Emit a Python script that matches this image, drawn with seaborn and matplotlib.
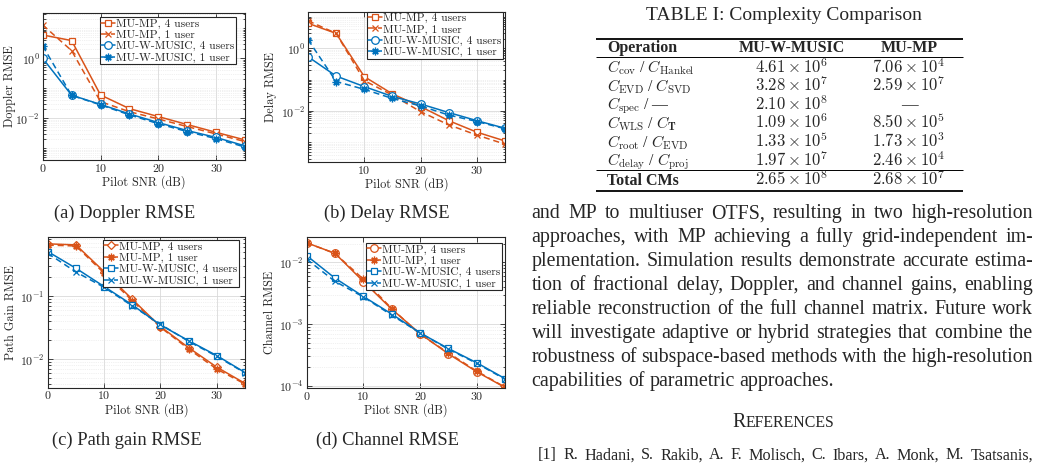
import numpy as np
import pandas as pd
import matplotlib
matplotlib.use("Agg")
import matplotlib.pyplot as plt
import seaborn as sns
from matplotlib.ticker import LogLocator, NullFormatter

sns.set_theme(style="ticks")
plt.rcParams["font.family"] = ["cmr10", "DejaVu Serif"]
plt.rcParams["mathtext.fontset"] = "cm"
plt.rcParams["axes.formatter.use_mathtext"] = True
plt.rcParams["axes.unicode_minus"] = False

# ---- data ----
snr = [0, 5, 10, 15, 20, 25, 30, 35]

doppler_mp4 = [6.0, 3.9, 0.060, 0.021, 0.0114, 0.0062, 0.0034, 0.0019]
doppler_mp1 = [12.9, 1.8, 0.036, 0.0166, 0.0095, 0.0053, 0.0030, 0.00167]
doppler_mu4 = [1.0, 0.059, 0.029, 0.014, 0.0072, 0.0039, 0.0023, 0.0012]
doppler_mu1 = [2.6, 0.058, 0.028, 0.013, 0.0066, 0.0036, 0.0021, 0.0011]

delay_mp4 = [6.3, 3.0, 0.125, 0.035, 0.0138, 0.0049, 0.0021, 0.0011]
delay_mp1 = [7.6, 3.0, 0.093, 0.032, 0.0095, 0.0036, 0.0017, 0.00087]
delay_mu4 = [0.54, 0.13, 0.060, 0.029, 0.0167, 0.0089, 0.0049, 0.0028]
delay_mu1 = [1.9, 0.087, 0.049, 0.025, 0.0144, 0.0074, 0.0046, 0.0027]

gain_mp4 = [0.67, 0.645, 0.243, 0.0885, 0.0326, 0.0151, 0.0074, 0.0041]
gain_mp1 = [0.64, 0.62, 0.23, 0.084, 0.0318, 0.0144, 0.0069, 0.0040]
gain_mu4 = [0.506, 0.275, 0.141, 0.072, 0.0346, 0.0195, 0.0113, 0.0061]
gain_mu1 = [0.475, 0.24, 0.137, 0.0694, 0.0355, 0.019, 0.011, 0.006]

chan_mp4 = [0.0207, 0.01396, 0.00488, 0.00174, 0.000698, 0.000328, 0.000168, 0.0000933]
chan_mp1 = [0.0207, 0.0139, 0.00532, 0.00178, 0.00068, 0.00034, 0.000172, 0.0000945]
chan_mu4 = [0.0128, 0.00552, 0.00279, 0.00145, 0.000716, 0.0004, 0.000235, 0.00013]
chan_mu1 = [0.0112, 0.0049, 0.00274, 0.00139, 0.000716, 0.00039, 0.00023, 0.000127]

labels = ["MU-MP, 4 users", "MU-MP, 1 user", "MU-W-MUSIC, 4 users", "MU-W-MUSIC, 1 user"]

table_ops = [r"$C_{\rm cov}$ / $C_{\rm Hankel}$", r"$C_{\rm EVD}$ / $C_{\rm SVD}$",
             r"$C_{\rm spec}$ / —", r"$C_{\rm WLS}$ / $C_{\mathbf{T}}$",
             r"$C_{\rm root}$ / $C_{\rm EVD}$", r"$C_{\rm delay}$ / $C_{\rm proj}$"]
table_music = [r"$4.61\times10^{6}$", r"$3.28\times10^{7}$", r"$2.10\times10^{8}$",
               r"$1.09\times10^{6}$", r"$1.33\times10^{5}$", r"$1.97\times10^{7}$"]
table_mp = [r"$7.06\times10^{4}$", r"$2.59\times10^{7}$", "—",
            r"$8.50\times10^{5}$", r"$1.73\times10^{3}$", r"$2.46\times10^{4}$"]
total_music = r"$\mathbf{2.65}\times\mathbf{10}^{\mathbf{8}}$"
total_mp = r"$\mathbf{2.68}\times\mathbf{10}^{\mathbf{7}}$"

paragraph = [
    "and MP to multiuser OTFS, resulting in two high-resolution",
    "approaches, with MP achieving a fully grid-independent im-",
    "plementation. Simulation results demonstrate accurate estima-",
    "tion of fractional delay, Doppler, and channel gains, enabling",
    "reliable reconstruction of the full channel matrix. Future work",
    "will investigate adaptive or hybrid strategies that combine the",
    "robustness of subspace-based methods with the high-resolution",
    "capabilities of parametric approaches.",
]
ref1 = "[1] R. Hadani, S. Rakib, A. F. Molisch, C. Ibars, A. Monk, M. Tsatsanis,"

ORANGE = "#D95319"
BLUE = "#0072BD"
AST = (8, 2, 0)
DASH = (0, (4, 2.5))
W, H = 1041, 466

fig = plt.figure(figsize=(10.41, 4.66), dpi=100)


def px_axes(l, t, r, b):
    return fig.add_axes([l / W, 1 - b / H, (r - l) / W, (b - t) / H])


def panel(ax, series, styles, ylim, yticks, yticklabels, xticks, ylabel, ylab_x, leg_anchor):
    for vals, lab, (col, mk, ls, ms) in zip(series, labels, styles):
        sns.lineplot(x=snr, y=vals, ax=ax, color=col, marker=mk, linestyle=ls,
                     markersize=ms, mfc="white", mec=col, mew=0.9, lw=1.1,
                     label=lab, legend=False)
    ax.set_yscale("log")
    ax.set_xlim(0, 35)
    ax.set_ylim(*ylim)
    ax.set_xticks(xticks)
    ax.set_xticklabels([str(v) for v in xticks])
    ax.set_yticks(yticks)
    ax.set_yticklabels(yticklabels)
    ax.yaxis.set_minor_locator(LogLocator(base=10, subs=np.arange(1, 10), numticks=20))
    ax.yaxis.set_minor_formatter(NullFormatter())
    ax.grid(True, which="major", color="#d9d9d9", lw=0.6)
    ax.grid(True, which="minor", axis="y", color="#e3e3e3", lw=0.5, ls=":")
    ax.set_axisbelow(True)
    for s in ax.spines.values():
        s.set_color("#262626")
        s.set_linewidth(0.8)
    ax.tick_params(which="both", direction="in", top=True, right=True,
                   colors="#262626", labelsize=8.6, width=0.6)
    ax.tick_params(axis="y", pad=2)
    ax.tick_params(axis="x", pad=3)
    ax.tick_params(which="major", length=3.5)
    ax.tick_params(which="minor", length=1.8)
    ax.set_xlabel("Pilot SNR (dB)", fontsize=8.8, color="#262626", labelpad=1)
    ax.set_ylabel(ylabel, fontsize=8.8, color="#262626")
    ax.yaxis.set_label_coords(ylab_x, 0.5)
    leg = ax.legend(loc="upper right", bbox_to_anchor=leg_anchor, borderaxespad=0,
                    fontsize=8.3, frameon=True, fancybox=False, framealpha=1,
                    edgecolor="#262626", handlelength=1.15, handletextpad=0.15,
                    borderpad=0.12, labelspacing=0.1)
    leg.get_frame().set_linewidth(0.8)


ax1 = px_axes(42.7, 12.7, 245, 160)
panel(ax1, [doppler_mp4, doppler_mp1, doppler_mu4, doppler_mu1],
      [(ORANGE, "s", "-", 5), (ORANGE, "x", DASH, 5), (BLUE, "o", "-", 5.5), (BLUE, AST, DASH, 5.5)],
      (10 ** -3.39, 10 ** 1.52), [1e-2, 1e0], [r"$10^{-2}$", r"$10^{0}$"],
      [0, 10, 20, 30], "Doppler RMSE", -0.13, (0.955, 0.97))

ax2 = px_axes(308, 11.7, 505, 162.3)
panel(ax2, [delay_mp4, delay_mp1, delay_mu4, delay_mu1],
      [(ORANGE, "s", "-", 5), (ORANGE, "x", DASH, 5), (BLUE, "o", "-", 5.5), (BLUE, AST, DASH, 5.5)],
      (10 ** -3.64, 10 ** 1.17), [1e-2, 1e0], [r"$10^{-2}$", r"$10^{0}$"],
      [10, 20, 30], "Delay RMSE", -0.158, (0.99, 1.0))

ax3 = px_axes(47.7, 236.7, 245, 387.7)
panel(ax3, [gain_mp4, gain_mp1, gain_mu4, gain_mu1],
      [(ORANGE, "D", "-", 4.5), (ORANGE, AST, DASH, 5.5), (BLUE, "s", "-", 5), (BLUE, "x", DASH, 5)],
      (3.5e-3, 0.87), [1e-2, 1e-1], [r"$10^{-2}$", r"$10^{-1}$"],
      [0, 10, 20, 30], "Path Gain RMSE", -0.158, (0.97, 0.978))

ax4 = px_axes(306.7, 236.7, 505, 388.3)
panel(ax4, [chan_mp4, chan_mp1, chan_mu4, chan_mu1],
      [(ORANGE, "o", "-", 5.5), (ORANGE, AST, DASH, 5.5), (BLUE, "s", "-", 5), (BLUE, "x", DASH, 5)],
      (9.05e-5, 0.026), [1e-4, 1e-3, 1e-2], [r"$10^{-4}$", r"$10^{-3}$", r"$10^{-2}$"],
      [0, 10, 20, 30], "Channel RMSE", -0.153, (0.985, 0.958))

# ---- page overlay in pixel coordinates ----
ov = fig.add_axes([0, 0, 1, 1], zorder=-5)
ov.set_xlim(0, W)
ov.set_ylim(H, 0)
ov.axis("off")
SERIF = "Liberation Serif"
renderer = fig.canvas.get_renderer()

for txt, x, y in [("(a) Doppler RMSE", 125, 213), ("(b) Delay RMSE", 387, 213),
                  ("(c) Path gain RMSE", 127, 440), ("(d) Channel RMSE", 387, 440)]:
    ov.text(x, y, txt, family=SERIF, fontsize=13.3, ha="center", va="center")

# table
ov.text(784, 20, "TABLE I: Complexity Comparison", family=SERIF, fontsize=14,
        ha="center", va="baseline")
for y, lw in [(39.3, 1.3), (57.3, 0.7), (170.3, 0.7), (190.7, 1.3)]:
    ov.plot([596, 963], [y, y], color="black", lw=lw, solid_capstyle="butt")
TS = 11.5
MS = 12.0
OS = 11.4
ov.text(607, 52.3, "Operation", family=SERIF, fontsize=TS, weight="bold", va="baseline")
ov.text(792, 52.3, "MU-W-MUSIC", family=SERIF, fontsize=TS, weight="bold", ha="center", va="baseline")
ov.text(909, 52.3, "MU-MP", family=SERIF, fontsize=TS, weight="bold", ha="center", va="baseline")
row_base = [72.7, 91.2, 109.5, 128.5, 146.9, 165.6]
for yb, op, a, b in zip(row_base, table_ops, table_music, table_mp):
    ov.text(607, yb, op, family=SERIF, fontsize=OS, va="baseline")
    ov.text(792, yb, a, family=SERIF, fontsize=MS, ha="center", va="baseline")
    ov.text(909, yb, b, family=SERIF, fontsize=MS, ha="center", va="baseline")
ov.text(607, 185, "Total CMs", family=SERIF, fontsize=TS, weight="bold", va="baseline")
ov.text(792, 185, total_music, family=SERIF, fontsize=MS, ha="center", va="baseline")
ov.text(909, 185, total_mp, family=SERIF, fontsize=MS, ha="center", va="baseline")


def justify(line, x0, x1, y, size, last=False):
    words = line.split()
    arts = [ov.text(0, y, w, family=SERIF, fontsize=size, va="baseline") for w in words]
    widths = [a.get_window_extent(renderer).width for a in arts]
    if last or len(words) == 1:
        gap = size * 0.25 * 100 / 72
    else:
        gap = (x1 - x0 - sum(widths)) / (len(words) - 1)
    x = x0
    for a, w in zip(arts, widths):
        a.set_x(x)
        x += w + gap


for i, line in enumerate(paragraph):
    justify(line, 531.7, 1033, 218.3 + 24 * i, 14.3, last=(i == len(paragraph) - 1))

# small caps heading
r_big = ov.text(0, 427.3, "R", family=SERIF, fontsize=14.3, va="baseline")
r_small = ov.text(0, 427.3, "EFERENCES", family=SERIF, fontsize=11.4, va="baseline")
wb = r_big.get_window_extent(renderer).width
ws = r_small.get_window_extent(renderer).width
start = 783 - (wb + ws) / 2
r_big.set_x(start)
r_small.set_x(start + wb)

justify(ref1, 538, 1033, 459.3, 11.6)

fig.savefig("out.png", dpi=100)
